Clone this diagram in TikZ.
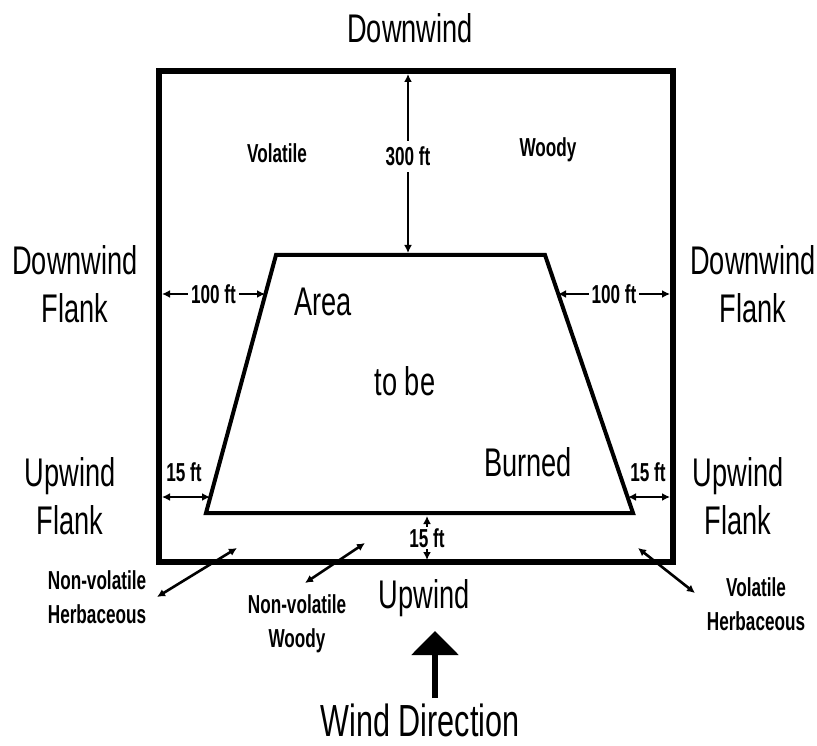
\documentclass[tikz,border=0pt]{standalone}
\usepackage{fontspec}
\setmainfont[FakeStretch=0.68]{Liberation Sans}
\newfontfamily\smallfnt[FakeStretch=0.66]{Liberation Sans}
\usetikzlibrary{arrows.meta}
\tikzset{
  big/.style={font=\fontsize{40}{48}\selectfont, align=center, inner sep=0},
  small/.style={font=\smallfnt\bfseries\fontsize{26}{34}\selectfont, align=center, inner sep=0},
  dim/.style={line width=2.6pt, {Latex[length=8pt,width=8pt]}-{Latex[length=8pt,width=8pt]}},
  lbl/.style={small, fill=white, inner sep=3pt},
}
\begin{document}
\begin{tikzpicture}[x=1pt,y=-1pt]
\useasboundingbox (0,0) rectangle (817,746);
% outer field
\coordinate (o1) at (159,71);
\coordinate (o2) at (673,562);
\draw[line width=6pt] (o1) rectangle (o2);
% burn area
\coordinate (tl) at (276,255);
\coordinate (tr) at (545,255);
\coordinate (br) at (633,513);
\coordinate (bl) at (206,513);
\draw[line width=4pt, line join=miter] (tl) -- (tr) -- (br) -- (bl) -- cycle;

% texts
\node[big] (dw) at (410,28) {Downwind};
\node[small] (vol) at (277,153) {Volatile};
\node[small] (woody) at (548,150) {Woody};
\node[big] (dwfl) at (75,284) {Downwind\\Flank};
\node[big] (dwfr) at (753,284) {Downwind\\Flank};
\node[big] (area) at (323,302) {Area};
\node[big] (tobe) at (405,381) {to be};
\node[big] (burned) at (528,462) {Burned};
\node[big] (upfl) at (70,496) {Upwind\\Flank};
\node[big] (upfr) at (738,496) {Upwind\\Flank};
\node[small] (nvh) at (97,597) {Non-volatile\\Herbaceous};
\node[small] (nvw) at (297,624) {Non-volatile\\Woody};
\node[big] (up) at (424,598) {Upwind};
\node[small] (vh) at (756,604) {Volatile\\Herbaceous};
\node[font=\fontsize{45}{48}\selectfont, inner sep=0] (wd) at (420,720) {Wind Direction};

% dimension arrows
\coordinate (a300t) at (408,74);
\coordinate (a300b) at (408,253);
\draw[dim] (a300t) -- (a300b) node[lbl, pos=0.46, inner sep=6pt] (l300) {300 ft};

\coordinate (a100la) at (162,294);
\coordinate (a100lb) at (265,294);
\draw[dim] (a100la) -- (a100lb) node[lbl, midway] (l100l) {100 ft};
\coordinate (a100ra) at (558,294);
\coordinate (a100rb) at (670,294);
\draw[dim] (a100ra) -- (a100rb) node[lbl, midway] (l100r) {100 ft};

\coordinate (a15la) at (162,497);
\coordinate (a15lb) at (210,497);
\draw[dim] (a15la) -- (a15lb);
\node[small] (l15l) at (184,472) {15 ft};
\coordinate (a15ra) at (628,497);
\coordinate (a15rb) at (670,497);
\draw[dim] (a15ra) -- (a15rb);
\node[small] (l15r) at (648,472) {15 ft};

\coordinate (a15ba) at (427,516);
\coordinate (a15bb) at (427,560);
\draw[dim] (a15ba) -- (a15bb) node[lbl, midway, inner sep=1pt] (l15b) {15 ft};

% pointer arrows
\coordinate (p1a) at (237,548);
\coordinate (p1b) at (157,597);
\draw[dim] (p1a) -- (p1b);
\coordinate (p2a) at (365,543);
\coordinate (p2b) at (305,583);
\draw[dim] (p2a) -- (p2b);
\coordinate (p3a) at (638,548);
\coordinate (p3b) at (695,593);
\draw[dim] (p3a) -- (p3b);

% wind arrow
\coordinate (wb) at (435,698);
\coordinate (wt) at (435,631);
\draw[line width=6pt, -{Triangle[width=46pt,length=24pt]}] (wb) -- (wt);
\end{tikzpicture}
\end{document}
